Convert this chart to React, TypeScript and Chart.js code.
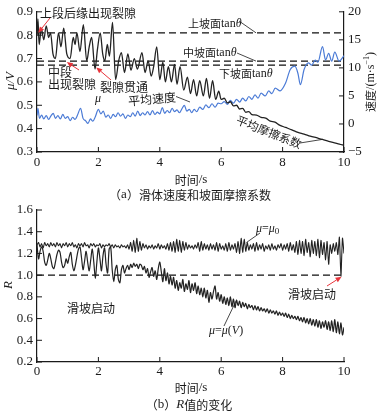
import React, { useEffect, useRef } from "react";
import { Chart, registerables } from "chart.js";
Chart.register(...registerables);

const SERIF = '"Liberation Serif", "Times New Roman", serif';
const CJK = '"Noto Sans CJK SC", sans-serif';
const INK = "#1a1a1a";
const BLUE = "#4b7bd6";
const RED = "#e8333a";

// ---------- (a) top chart data ----------
const xTicksTime = [0, 2, 4, 6, 8, 10];
const muTimes = [0, 0.03, 0.07, 0.14, 0.22, 0.3, 0.38, 0.44, 0.52, 0.6, 0.7, 0.78, 0.87, 0.97, 1.08, 1.18, 1.24, 1.3, 1.4, 1.51, 1.62, 1.7, 1.78, 1.89, 1.97, 2.06, 2.14, 2.21, 2.29, 2.36, 2.46, 2.56, 2.66, 2.75, 2.85, 2.96, 3.06, 3.17, 3.27, 3.42, 3.52, 3.62, 3.72, 3.8, 3.9, 4.0, 4.1, 4.18, 4.28, 4.38, 4.48, 4.56, 4.66, 4.78, 4.9, 5.0, 5.1, 5.2, 5.3, 5.42, 5.52, 5.62, 5.72, 5.82, 5.92, 6.0, 6.1, 6.2, 6.3, 6.4, 6.5, 6.6, 6.7, 6.8, 6.9, 7.0, 7.15, 7.3, 7.45, 7.6, 7.75, 7.9, 8.1, 8.3, 8.5, 8.7, 8.9, 9.1, 9.3, 9.5, 9.7, 9.85, 10.0];
const muValues = [0.8, 0.87, 0.76, 0.83, 0.78, 0.84, 0.79, 0.81, 0.72, 0.7, 0.81, 0.75, 0.83, 0.72, 0.7, 0.79, 0.76, 0.81, 0.73, 0.845, 0.69, 0.75, 0.79, 0.655, 0.74, 0.81, 0.72, 0.69, 0.76, 0.71, 0.855, 0.61, 0.69, 0.725, 0.64, 0.72, 0.65, 0.7, 0.655, 0.725, 0.64, 0.69, 0.625, 0.665, 0.75, 0.61, 0.685, 0.6, 0.665, 0.6, 0.675, 0.59, 0.665, 0.565, 0.62, 0.55, 0.61, 0.54, 0.605, 0.54, 0.615, 0.53, 0.605, 0.525, 0.56, 0.525, 0.53, 0.51, 0.515, 0.497, 0.5, 0.484, 0.487, 0.47, 0.473, 0.46, 0.458, 0.448, 0.445, 0.432, 0.428, 0.415, 0.405, 0.395, 0.384, 0.377, 0.368, 0.361, 0.354, 0.346, 0.339, 0.334, 0.328];
const velTimes = [0, 0.03, 0.08, 0.15, 0.22, 0.3, 0.38, 0.45, 0.53, 0.6, 0.68, 0.76, 0.84, 0.92, 1.0, 1.08, 1.16, 1.24, 1.32, 1.42, 1.5, 1.58, 1.66, 1.74, 1.82, 1.9, 2.0, 2.08, 2.16, 2.24, 2.32, 2.4, 2.48, 2.56, 2.64, 2.72, 2.8, 2.88, 2.96, 3.04, 3.12, 3.2, 3.28, 3.36, 3.44, 3.52, 3.6, 3.68, 3.76, 3.84, 3.92, 4.0, 4.08, 4.16, 4.24, 4.32, 4.4, 4.48, 4.56, 4.64, 4.72, 4.8, 4.88, 4.96, 5.04, 5.12, 5.2, 5.3, 5.4, 5.5, 5.6, 5.7, 5.8, 5.9, 6.0, 6.1, 6.2, 6.3, 6.4, 6.5, 6.6, 6.7, 6.8, 6.9, 7.0, 7.1, 7.2, 7.3, 7.43, 7.55, 7.65, 7.76, 7.92, 8.09, 8.25, 8.4, 8.5, 8.58, 8.7, 8.84, 8.95, 9.06, 9.15, 9.3, 9.4, 9.5, 9.6, 9.7, 9.84, 10.0];
const velValues = [1.5, 2.8, 1.0, 1.6, 0.9, 1.5, 0.8, 1.4, 1.9, 1.0, 1.5, 0.9, 1.7, 1.0, 1.3, 0.6, 1.2, 0.8, 1.6, 2.8, 1.0, 0.6, 0.1, 0.9, 0.5, 1.3, 2.6, 1.8, 2.3, 1.2, 1.6, 1.0, 1.7, 1.3, 2.0, 1.4, 1.8, 1.0, 1.6, 1.3, 2.0, 1.4, 2.3, 1.5, 2.0, 1.6, 2.2, 1.6, 2.4, 1.7, 2.1, 1.8, 2.9, 1.9, 2.4, 2.0, 2.8, 2.2, 2.5, 2.0, 2.7, 3.3, 2.3, 2.6, 2.0, 2.6, 2.2, 3.0, 2.6, 3.4, 2.9, 3.6, 3.0, 3.7, 3.6, 4.0, 3.5, 4.2, 3.7, 4.4, 3.9, 4.6, 4.1, 4.9, 4.4, 5.2, 4.6, 5.5, 5.0, 5.9, 5.4, 6.4, 5.9, 7.2, 9.7, 10.3, 9.0, 7.0, 9.7, 10.9, 10.5, 11.4, 11.0, 13.8, 11.4, 12.6, 11.2, 12.8, 11.2, 12.2];
const tanUpper = 0.81;
const tanMiddle = 0.689;
const tanLower = 0.672;
const lineSpan = [0, 10];

// ---------- (b) bottom chart data ----------
const rStep = 0.05;
const rMu0 = [
  1.28, 1.30, 1.26, 1.29, 1.25, 1.30, 1.27, 1.29, 1.26, 1.30,
  1.27, 1.29, 1.26, 1.30, 1.27, 1.29, 1.25, 1.29, 1.27, 1.30,
  1.26, 1.29, 1.27, 1.30, 1.26, 1.28, 1.25, 1.29, 1.27, 1.29,
  1.26, 1.30, 1.27, 1.28, 1.25, 1.29, 1.27, 1.29, 1.26, 1.28,
  1.27, 1.29, 1.25, 1.28, 1.26, 1.28, 1.27, 1.29, 1.26, 1.28,
  1.25, 1.28, 1.26, 1.27, 1.25, 1.28, 1.26, 1.27, 1.25, 1.28,
  1.24, 1.30, 1.22, 1.32, 1.21, 1.34, 1.22, 1.31, 1.23, 1.29,
  1.25, 1.28, 1.24, 1.27, 1.25, 1.28, 1.24, 1.27, 1.25, 1.29,
  1.24, 1.28, 1.25, 1.27, 1.24, 1.29, 1.23, 1.30, 1.22, 1.31,
  1.21, 1.33, 1.22, 1.32, 1.21, 1.31, 1.23, 1.30, 1.24, 1.28,
  1.25, 1.27, 1.24, 1.28, 1.25, 1.30, 1.22, 1.31, 1.23, 1.29,
  1.24, 1.28, 1.23, 1.29, 1.24, 1.28, 1.23, 1.30, 1.22, 1.29,
  1.24, 1.27, 1.23, 1.29, 1.22, 1.30, 1.23, 1.28, 1.24, 1.29,
  1.21, 1.31, 1.20, 1.34, 1.21, 1.33, 1.22, 1.30, 1.23, 1.28,
  1.24, 1.29, 1.22, 1.30, 1.23, 1.28, 1.24, 1.29, 1.22, 1.27,
  1.24, 1.28, 1.23, 1.29, 1.24, 1.27, 1.23, 1.28, 1.25, 1.29,
  1.23, 1.28, 1.24, 1.29, 1.22, 1.30, 1.23, 1.28, 1.21, 1.31,
  1.19, 1.32, 1.20, 1.31, 1.18, 1.33, 1.21, 1.30, 1.17, 1.32,
  1.20, 1.31, 1.18, 1.33, 1.16, 1.32, 1.19, 1.30, 1.14, 1.31,
  1.10, 1.28, 1.20, 1.29, 1.22, 1.30, 1.19, 1.35, 0.99, 1.34,
  1.20,
];
const rMuV = [
  1.28, 1.15, 1.22, 1.26, 1.22, 1.12, 1.09, 1.14, 1.20, 1.15,
  1.08, 1.06, 1.12, 1.19, 1.23, 1.21, 1.12, 1.07, 1.09, 1.15,
  1.11, 1.17, 1.21, 1.10, 1.04, 1.09, 1.17, 1.24, 1.26, 1.16,
  1.05, 1.13, 1.22, 1.12, 1.04, 1.14, 1.24, 1.12, 0.97, 1.12,
  1.25, 1.15, 1.04, 1.18, 1.25, 1.10, 1.02, 1.24, 1.26, 1.05,
  0.94, 1.05, 1.09, 0.96, 0.93, 1.05, 1.09, 1.02, 1.06, 1.09,
  1.05, 1.10, 1.07, 1.11, 1.08, 1.10, 1.06, 1.10, 1.09, 1.05,
  1.08, 1.02, 1.06, 0.98, 1.03, 1.07, 0.99, 1.04, 0.96, 1.06,
  1.12, 1.03, 0.94, 1.06, 0.95, 1.02, 0.92, 0.99, 0.91, 0.98,
  0.88, 0.95, 0.86, 0.93, 0.88, 0.96, 0.85, 0.92, 0.87, 0.95,
  0.84, 0.92, 0.86, 0.93, 0.83, 0.90, 0.82, 0.88, 0.80, 0.88,
  0.79, 0.86, 0.75, 0.84, 0.78, 0.85, 0.90, 0.78, 0.84, 0.76,
  0.82, 0.74, 0.80, 0.73, 0.79, 0.72, 0.80, 0.71, 0.78, 0.70,
  0.77, 0.72, 0.76, 0.70, 0.75, 0.71, 0.74, 0.69, 0.73, 0.70,
  0.72, 0.68, 0.72, 0.68, 0.71, 0.67, 0.70, 0.67, 0.69, 0.66,
  0.69, 0.65, 0.68, 0.65, 0.67, 0.64, 0.67, 0.63, 0.66, 0.63,
  0.65, 0.62, 0.65, 0.61, 0.64, 0.60, 0.63, 0.60, 0.62, 0.59,
  0.62, 0.58, 0.61, 0.57, 0.61, 0.56, 0.60, 0.55, 0.60, 0.54,
  0.59, 0.53, 0.59, 0.52, 0.58, 0.51, 0.57, 0.52, 0.58, 0.50,
  0.57, 0.49, 0.58, 0.48, 0.59, 0.47, 0.57, 0.46, 0.56, 0.45,
  0.52,
];
const rThreshold = 1.0;

type Seg = { t: string; f: string; dy?: number };

function drawRich(ctx: CanvasRenderingContext2D, segs: Seg[], x: number, y: number, align: "left" | "center" | "right", rot = 0, color = INK) {
  ctx.save();
  ctx.translate(x, y);
  ctx.rotate(rot);
  ctx.fillStyle = color;
  ctx.textBaseline = "middle";
  ctx.textAlign = "left";
  let w = 0;
  for (const s of segs) { ctx.font = s.f; w += ctx.measureText(s.t).width; }
  let cx = align === "left" ? 0 : align === "center" ? -w / 2 : -w;
  for (const s of segs) {
    ctx.font = s.f;
    ctx.fillText(s.t, cx, s.dy || 0);
    cx += ctx.measureText(s.t).width;
  }
  ctx.restore();
}

function seg(ctx: CanvasRenderingContext2D, x1: number, y1: number, x2: number, y2: number) {
  ctx.save();
  ctx.strokeStyle = INK;
  ctx.lineWidth = 0.8;
  ctx.beginPath();
  ctx.moveTo(x1, y1);
  ctx.lineTo(x2, y2);
  ctx.stroke();
  ctx.restore();
}

function arrow(ctx: CanvasRenderingContext2D, x1: number, y1: number, x2: number, y2: number) {
  ctx.save();
  ctx.strokeStyle = RED;
  ctx.fillStyle = RED;
  ctx.lineWidth = 1;
  const a = Math.atan2(y2 - y1, x2 - x1);
  const L = 6, W = 2.6;
  ctx.beginPath();
  ctx.moveTo(x1, y1);
  ctx.lineTo(x2 - L * Math.cos(a), y2 - L * Math.sin(a));
  ctx.stroke();
  ctx.beginPath();
  ctx.moveTo(x2, y2);
  ctx.lineTo(x2 - L * Math.cos(a) + W * Math.sin(a), y2 - L * Math.sin(a) - W * Math.cos(a));
  ctx.lineTo(x2 - L * Math.cos(a) - W * Math.sin(a), y2 - L * Math.sin(a) + W * Math.cos(a));
  ctx.closePath();
  ctx.fill();
  ctx.restore();
}

const inwardTicks = {
  id: "inwardTicks",
  afterDatasetsDraw(chart: any) {
    const ctx = chart.ctx as CanvasRenderingContext2D;
    const { left, right, bottom } = chart.chartArea;
    const L = 5;
    ctx.save();
    ctx.strokeStyle = INK;
    ctx.lineWidth = 1;
    for (const id of Object.keys(chart.scales)) {
      const s = chart.scales[id];
      s.ticks.forEach((_t: any, i: number) => {
        const p = s.getPixelForTick(i);
        ctx.beginPath();
        if (s.isHorizontal()) { ctx.moveTo(p, bottom); ctx.lineTo(p, bottom - L); }
        else if (s.position === "left") { ctx.moveTo(left, p); ctx.lineTo(left + L, p); }
        else { ctx.moveTo(right, p); ctx.lineTo(right - L, p); }
        ctx.stroke();
      });
    }
    ctx.restore();
  },
};

const tickFont = { family: SERIF, size: 13 };
const cjk = (n: number) => `${n}px ${CJK}`;
const serif = (n: number) => `${n}px ${SERIF}`;
const serifI = (n: number) => `italic ${n}px ${SERIF}`;

function xyPairs(xs: number[], ys: number[]) {
  return ys.map((y, i) => ({ x: xs[i], y }));
}

export default function App() {
  const refA = useRef<HTMLCanvasElement>(null);
  const refB = useRef<HTMLCanvasElement>(null);

  useEffect(() => {
    const rTimes = rMu0.map((_v, i) => +(i * rStep).toFixed(2));

    const labelsA = {
      id: "labelsA",
      afterDraw(chart: any) {
        const ctx = chart.ctx as CanvasRenderingContext2D;
        const X = chart.scales.x, Y = chart.scales.y;
        const px = (t: number) => X.getPixelForValue(t);
        const py = (m: number) => Y.getPixelForValue(m);
        drawRich(ctx, [{ t: "上段后缘出现裂隙", f: cjk(12) }], 40, 13, "left");
        arrow(ctx, 50, 18, px(0.04), py(0.81));
        drawRich(ctx, [{ t: "中段", f: cjk(12) }], 48, 72, "left");
        drawRich(ctx, [{ t: "出现裂隙", f: cjk(12) }], 48, 84, "left");
        arrow(ctx, 79, 70, px(0.97), py(0.685));
        drawRich(ctx, [{ t: "裂隙贯通", f: cjk(12) }], 100, 87, "left");
        arrow(ctx, 111, 80, px(1.93), py(0.662));
        drawRich(ctx, [{ t: "μ", f: serifI(12) }], 98, 99, "center");
        drawRich(ctx, [{ t: "平均速度", f: cjk(12) }], 152, 99, "center", -0.09);
        seg(ctx, 176, 96.5, 190, 102);
        const tanSegs = (head: string): Seg[] => [
          { t: head, f: cjk(11) },
          { t: "tan", f: serif(12) },
          { t: "θ", f: serifI(12) },
        ];
        drawRich(ctx, tanSegs("上坡面"), 188, 24, "left");
        seg(ctx, 239, 21, 256, py(tanUpper));
        drawRich(ctx, tanSegs("中坡面"), 183, 53, "left");
        seg(ctx, 237, 53, 256, py(tanMiddle));
        drawRich(ctx, tanSegs("下坡面"), 219, 74, "left");
        drawRich(ctx, [{ t: "平均摩擦系数", f: cjk(11.5) }], 269, 132, "center", 0.38);
        seg(ctx, 300, 143, px(9.3), py(0.354));
        drawRich(ctx, [{ t: "时间", f: cjk(12) }, { t: "/s", f: serif(13) }], 191, 180, "center");
        drawRich(ctx, [{ t: "（", f: cjk(12) }, { t: "a", f: serif(13) }, { t: "）滑体速度和坡面摩擦系数", f: cjk(12) }], 190, 195, "center");
        drawRich(ctx, [{ t: "μ/V", f: serifI(13) }], 11, 81, "center", -Math.PI / 2);
        drawRich(ctx, [
          { t: "速度", f: cjk(11) },
          { t: "/(m·s", f: serif(12) },
          { t: "−1", f: serif(8), dy: -4 },
          { t: ")", f: serif(12) },
        ], 371, 82, "center", -Math.PI / 2);
      },
    };

    const labelsB = {
      id: "labelsB",
      afterDraw(chart: any) {
        const ctx = chart.ctx as CanvasRenderingContext2D;
        const X = chart.scales.x, Y = chart.scales.y;
        const px = (t: number) => X.getPixelForValue(t);
        const py = (m: number) => Y.getPixelForValue(m);
        drawRich(ctx, [
          { t: "μ", f: serifI(12) }, { t: "=", f: serif(12) }, { t: "μ", f: serifI(12) }, { t: "0", f: serif(9), dy: 3 },
        ], 256, 229, "left");
        seg(ctx, 260, 233, px(6.82), py(1.3));
        drawRich(ctx, [
          { t: "μ", f: serifI(12) }, { t: "=", f: serif(12) }, { t: "μ", f: serifI(12) }, { t: "(", f: serif(12) }, { t: "V", f: serifI(12) }, { t: ")", f: serif(12) },
        ], 209, 331, "left");
        seg(ctx, 224, 326, px(6.48), py(0.76));
        drawRich(ctx, [{ t: "滑坡启动", f: cjk(12) }], 67, 308, "left");
        drawRich(ctx, [{ t: "滑坡启动", f: cjk(12) }], 288, 294, "left");
        arrow(ctx, 327, 286, px(9.92), py(0.985));
        drawRich(ctx, [{ t: "时间", f: cjk(12) }, { t: "/s", f: serif(13) }], 191, 388, "center");
        drawRich(ctx, [{ t: "（", f: cjk(12) }, { t: "b", f: serif(13) }, { t: "）", f: cjk(12) }, { t: "R", f: serifI(13) }, { t: "值的变化", f: cjk(12) }], 189, 405, "center");
        drawRich(ctx, [{ t: "R", f: serifI(13) }], 9, 285, "center", -Math.PI / 2);
      },
    };

    const axisCommon = {
      grid: { display: false, drawOnChartArea: false, drawTicks: false },
      border: { display: true, color: INK, width: 1.2 },
    };

    const a = new Chart(refA.current!, {
      type: "line",
      data: {
        datasets: [
          { data: xyPairs(muTimes, muValues), yAxisID: "y", borderColor: "#222", borderWidth: 1.3, pointRadius: 0, cubicInterpolationMode: "monotone" },
          { data: xyPairs(velTimes, velValues), yAxisID: "v", borderColor: BLUE, borderWidth: 1.2, pointRadius: 0, cubicInterpolationMode: "monotone" },
          { data: lineSpan.map((t) => ({ x: t, y: tanUpper })), yAxisID: "y", borderColor: "#111", borderWidth: 1.3, borderDash: [7, 4], pointRadius: 0 },
          { data: lineSpan.map((t) => ({ x: t, y: tanMiddle })), yAxisID: "y", borderColor: "#111", borderWidth: 1.3, borderDash: [7, 4], pointRadius: 0 },
          { data: lineSpan.map((t) => ({ x: t, y: tanLower })), yAxisID: "y", borderColor: "#111", borderWidth: 1.3, borderDash: [7, 4], pointRadius: 0 },
        ],
      } as any,
      options: {
        responsive: false,
        animation: false,
        devicePixelRatio: 1,
        layout: { padding: { top: 7, left: 0, right: 0, bottom: 213 } },
        plugins: { legend: { display: false }, tooltip: { enabled: false } },
        scales: {
          x: {
            type: "linear", min: 0, max: 10,
            afterBuildTicks: (s: any) => { s.ticks = xTicksTime.map((v) => ({ value: v })); },
            ticks: { font: tickFont, color: INK, padding: 3, maxRotation: 0 },
            afterFit: (s: any) => { s.height = 48; },
            ...axisCommon,
          },
          y: {
            type: "linear", position: "left", min: 0.3, max: 0.9,
            ticks: { stepSize: 0.1, font: tickFont, color: INK, padding: 4, callback: (v: any) => Number(v).toFixed(1) },
            afterFit: (s: any) => { s.width = 37; },
            ...axisCommon,
          },
          v: {
            type: "linear", position: "right", min: -5, max: 20,
            ticks: { stepSize: 5, font: tickFont, color: INK, padding: 4, callback: (v: any) => (Number(v) < 0 ? "−" + Math.abs(Number(v)) : String(v)) },
            afterFit: (s: any) => { s.width = 38; },
            ...axisCommon,
          },
        },
      } as any,
      plugins: [inwardTicks, labelsA],
    });

    const b = new Chart(refB.current!, {
      type: "line",
      data: {
        datasets: [
          { data: xyPairs(rTimes, rMu0), borderColor: "#222", borderWidth: 1.1, pointRadius: 0, tension: 0.2 },
          { data: xyPairs(rTimes, rMuV), borderColor: "#222", borderWidth: 1.2, pointRadius: 0, tension: 0.3 },
          { data: lineSpan.map((t) => ({ x: t, y: rThreshold })), borderColor: "#111", borderWidth: 1.3, borderDash: [7, 4], pointRadius: 0 },
        ],
      } as any,
      options: {
        responsive: false,
        animation: false,
        devicePixelRatio: 1,
        layout: { padding: { top: 210, left: 0, right: 38, bottom: 0 } },
        plugins: { legend: { display: false }, tooltip: { enabled: false } },
        scales: {
          x: {
            type: "linear", min: 0, max: 10,
            afterBuildTicks: (s: any) => { s.ticks = xTicksTime.map((v) => ({ value: v })); },
            ticks: { font: tickFont, color: INK, padding: 2, maxRotation: 0 },
            afterFit: (s: any) => { s.height = 51; },
            ...axisCommon,
          },
          y: {
            type: "linear", position: "left", min: 0.2, max: 1.6,
            ticks: { stepSize: 0.2, font: tickFont, color: INK, padding: 4, callback: (v: any) => Number(v).toFixed(1) },
            afterFit: (s: any) => { s.width = 37; },
            ...axisCommon,
          },
        },
      } as any,
      plugins: [inwardTicks, labelsB],
    });

    return () => { a.destroy(); b.destroy(); };
  }, []);

  const cs: React.CSSProperties = { position: "absolute", left: 0, top: 0, width: 382, height: 413 };
  return (
    <div style={{ position: "fixed", left: 0, top: 0, width: 382, height: 413, background: "#fff" }}>
      <canvas ref={refA} width={382} height={413} style={cs} />
      <canvas ref={refB} width={382} height={413} style={cs} />
    </div>
  );
}
